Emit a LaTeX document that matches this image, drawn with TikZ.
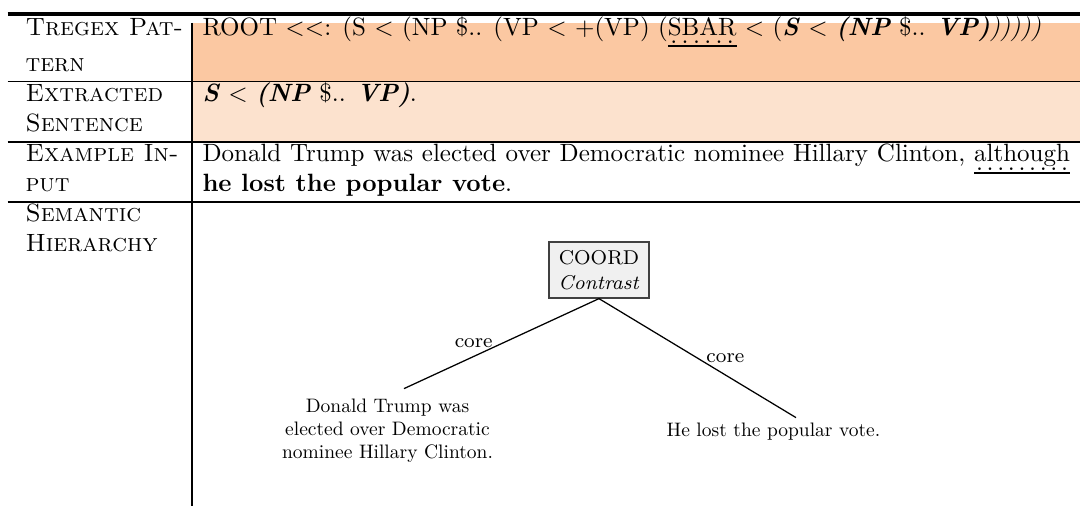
\documentclass[tikz,border=0pt]{standalone}
\usepackage{graphicx}
\usetikzlibrary{calc}
\definecolor{rowA}{RGB}{251,200,162}
\definecolor{rowB}{RGB}{252,226,206}
\newcommand\bi[1]{\textbf{\textit{#1}}}
\newcommand\dul[1]{\leavevmode\setbox0\hbox{#1}%
  \rlap{\copy0}%
  \rlap{\raisebox{-3.3pt}[0pt][0pt]{\hbox to\wd0{\xleaders\hbox to 4.18pt{\hss.\hss}\hfil}}}%
  \vrule width\wd0 height -3.8pt depth 4.8pt\relax}
\begin{document}
\begin{tikzpicture}[x=0.4pt,y=-0.4pt,
  lab/.style={anchor=base west,inner sep=0pt},
  hrule/.style={line width=0.5pt},
  coordbox/.style={draw=black!75,fill=black!6,line width=0.5pt,font=\fontsize{8}{10}\selectfont,
    align=center,minimum width=40pt,minimum height=22.4pt,inner sep=2pt},
  leaf/.style={anchor=base,inner sep=2.6pt},
  edge/.style={line width=0.5pt},
  elab/.style={font=\fontsize{8}{10}\selectfont}]
\useasboundingbox (0,0) rectangle (1080,506);
% shading
\fill[rowA] (192,23) rectangle (1080,81.7);
\fill[rowB] (192,81.7) rectangle (1080,142);
% rules
\draw[line width=1.5pt] (7.5,14.3) -- (1080,14.3);
\draw[hrule] (7.5,81.7) -- (1080,81.7);
\draw[hrule] (7.5,142) -- (1080,142);
\draw[hrule] (7.5,202) -- (1080,202);
\draw[line width=0.8pt] (192,23) -- (192,506);
% left column
\node[lab] (h1a) at (25,35.5) {\textsc{Tregex Pat-}};
\node[lab] (h1b) at (25,72) {\textsc{tern}};
\node[lab] (h2a) at (25,102) {\textsc{Extracted}};
\node[lab] (h2b) at (25,132) {\textsc{Sentence}};
\node[lab] (h3a) at (25,162) {\textsc{Example In-}};
\node[lab] (h3b) at (25,192) {\textsc{put}};
\node[lab] (h4a) at (25,222) {\textsc{Semantic}};
\node[lab] (h4b) at (25,252) {\textsc{Hierarchy}};
% right column
\node[lab] (pat) at (202,35.5) {ROOT $<<$: (S $<$ (NP \$.. (VP $<$ +(VP) (\dul{SBAR} $<$ (\bi{S} $<$ \bi{(NP} \$.. \bi{VP)}\textit{)))))}};
\node[lab] (ext) at (202,102) {\bi{S} $<$ \bi{(NP} \$.. \bi{VP)}.};
\node[lab] (in1) at (202,162) {\makebox[347pt][s]{Donald Trump was elected over Democratic nominee Hillary Clinton, \dul{although}}};
\node[lab] (in2) at (202,192) {\textbf{he lost the popular vote}.};
% tree
\node[coordbox] (c) at (599,270) {COORD\\\textit{Contrast}};
\node[leaf] (l) at (387.5,412) {\scalebox{0.78}{\begin{tabular}[t]{@{}c@{}}Donald Trump was\\elected over Democratic\\nominee Hillary Clinton.\end{tabular}}};
\node[leaf] (r) at (773.5,436) {\scalebox{0.78}{\begin{tabular}[t]{@{}c@{}}He lost the popular vote.\end{tabular}}};
\draw[edge] (c.south) -- node[midway,left,elab] {core} ($(l.north)+(16.5,0)$);
\draw[edge] (c.south) -- node[midway,right,elab] {core} ($(r.north)+(22.5,5)$);
\end{tikzpicture}
\end{document}
